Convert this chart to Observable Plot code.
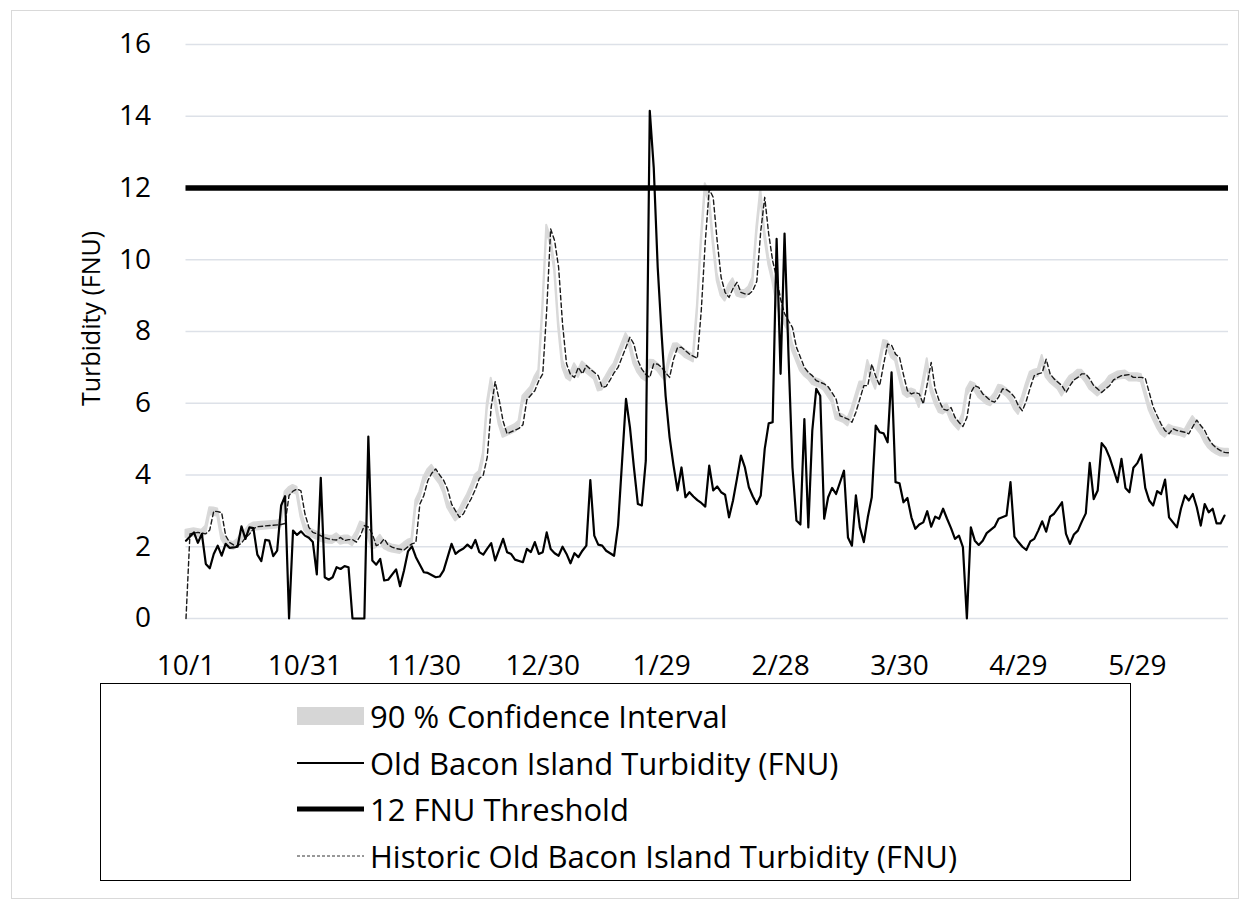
<!DOCTYPE html>
<html>
<head>
<meta charset="utf-8">
<script src="https://cdn.jsdelivr.net/npm/d3@7"></script>
<script src="https://cdn.jsdelivr.net/npm/@observablehq/plot@0.6"></script>
<style>
  body { margin: 0; background: #fff; font-family: "Open Sans", sans-serif; }
  #frame { position: absolute; left: 11px; top: 10px; width: 1226px; height: 887px; border: 1px solid #d9d9d9; }
  #chart { position: absolute; left: 0; top: 0; }
  #legend { position: absolute; left: 100px; top: 683px; width: 1031px; height: 198px; border: 1.5px solid #000; box-sizing: border-box; }
  .item { position: absolute; left: 196px; height: 40px; display: flex; align-items: center; font-size: 31px; color: #000; white-space: nowrap; }
  .item svg { margin-right: 6px; flex: none; }
</style>
</head>
<body>
<div id="frame"></div>
<div id="chart"></div>
<div id="legend"></div>
<script>
// Daily turbidity, days counted from 10/1
const oldBacon = [
  [0,2.17],[2,2.40],[3,2.11],[4,2.36],[5,1.52],[6,1.40],[7,1.80],[8,2.03],[9,1.75],[10,2.08],
  [11,1.97],[12,1.98],[13,2.00],[14,2.57],[15,2.22],[16,2.54],[17,2.52],[18,1.78],[19,1.60],[20,2.19],
  [21,2.17],[22,1.74],[23,1.89],[24,3.15],[25,3.41],[26,0],[27,2.45],[28,2.33],[29,2.43],[30,2.31],
  [31,2.25],[32,2.13],[33,1.23],[34,3.92],[35,1.15],[36,1.08],[37,1.15],[38,1.43],[39,1.38],[40,1.46],
  [41,1.43],[42,0],[43,0],[44,0],[45,0],[46,5.07],[47,1.62],[48,1.50],[49,1.66],[50,1.06],
  [51,1.08],[53,1.37],[54,0.90],[55,1.34],[56,1.87],[57,2.01],[58,1.71],[60,1.29],[61,1.27],[63,1.15],
  [64,1.17],[65,1.34],[67,2.08],[68,1.80],[69,1.89],[70,1.95],[71,2.06],[72,1.96],[73,2.19],[74,1.85],
  [75,1.78],[76,1.95],[77,2.10],[78,1.62],[80,2.22],[81,1.85],[82,1.80],[83,1.64],[85,1.57],[86,1.94],
  [87,1.85],[88,2.13],[89,1.80],[90,1.85],[91,2.40],[92,1.94],[93,1.82],[94,1.75],[95,2.00],[96,1.80],
  [97,1.54],[98,1.82],[99,1.71],[100,1.89],[101,2.03],[102,3.86],[103,2.31],[104,2.06],[105,2.03],[106,1.89],
  [108,1.75],[109,2.59],[111,6.12],[112,5.33],[113,4.21],[114,3.19],[115,3.15],[116,4.40],[117,14.15],[118,12.57],
  [119,9.79],[120,7.90],[121,6.20],[122,5.05],[123,4.26],[124,3.57],[125,4.21],[126,3.38],[127,3.52],[128,3.40],
  [129,3.30],[130,3.22],[131,3.12],[132,4.26],[133,3.57],[134,3.68],[135,3.52],[136,3.45],[137,2.82],[138,3.29],
  [139,3.90],[140,4.54],[141,4.21],[142,3.66],[143,3.40],[144,3.19],[145,3.43],[146,4.73],[147,5.44],[148,5.47],
  [149,10.58],[150,6.82],[151,10.73],[152,7.33],[153,4.21],[154,2.73],[155,2.62],[156,5.56],[157,2.54],[158,5.24],
  [159,6.40],[160,6.21],[161,2.78],[162,3.38],[163,3.64],[164,3.47],[166,4.12],[167,2.26],[168,2.03],[169,3.43],
  [170,2.54],[171,2.13],[172,2.82],[173,3.38],[174,5.38],[175,5.19],[176,5.16],[177,4.91],[178,6.86],[179,3.80],
  [180,3.77],[181,3.24],[182,3.36],[183,2.82],[184,2.50],[185,2.62],[186,2.68],[187,2.99],[188,2.56],[189,2.84],
  [190,2.78],[191,3.06],[192,2.78],[193,2.52],[194,2.22],[195,2.31],[196,1.99],[197,0],[198,2.54],[199,2.17],
  [200,2.05],[201,2.17],[202,2.38],[203,2.47],[204,2.56],[205,2.78],[207,2.87],[208,3.80],[209,2.28],[210,2.13],
  [211,2.00],[212,1.91],[213,2.15],[214,2.22],[215,2.45],[216,2.71],[217,2.42],[218,2.84],[219,2.92],[221,3.24],
  [222,2.36],[223,2.08],[224,2.34],[225,2.45],[226,2.70],[227,2.93],[228,4.34],[229,3.33],[230,3.57],[231,4.89],
  [232,4.75],[233,4.49],[234,4.15],[235,3.80],[236,4.45],[237,3.64],[238,3.52],[239,4.20],[240,4.33],[241,4.57],
  [242,3.64],[243,3.29],[244,3.15],[245,3.55],[246,3.47],[247,3.87],[248,2.82],[249,2.68],[250,2.54],[251,3.06],
  [252,3.43],[253,3.29],[254,3.47],[255,3.10],[256,2.59],[257,3.19],[258,2.96],[259,3.06],[260,2.65],[261,2.65],
  [262,2.87]
];

const historic = [
  [0,0],[1,2.36],[3,2.40],[5,2.36],[6,2.47],[7,2.99],[8,2.98],[9,2.95],[10,2.31],[11,2.12],
  [12,2.05],[13,2.02],[14,2.10],[15,2.25],[16,2.35],[17,2.50],[18,2.56],[20,2.58],[22,2.60],[24,2.62],
  [25,2.65],[26,3.43],[27,3.55],[28,3.61],[29,3.56],[30,2.92],[31,2.54],[32,2.40],[33,2.36],[34,2.31],
  [35,2.25],[36,2.22],[37,2.20],[38,2.19],[39,2.26],[40,2.17],[41,2.20],[42,2.20],[43,2.13],[44,2.31],
  [45,2.59],[46,2.55],[47,2.36],[48,2.03],[49,2.08],[50,2.22],[51,2.05],[52,1.99],[53,1.95],[54,1.93],
  [55,1.91],[56,2.00],[57,2.08],[58,2.12],[59,3.19],[60,3.43],[61,3.84],[62,4.05],[63,4.17],[64,4.00],
  [65,3.85],[66,3.60],[67,3.19],[68,3.00],[69,2.82],[70,2.92],[71,3.15],[72,3.35],[73,3.60],[74,3.90],
  [75,4.00],[76,4.50],[77,5.90],[78,6.60],[79,6.10],[80,5.50],[81,5.15],[82,5.20],[83,5.25],[84,5.30],
  [85,5.40],[86,6.10],[88,6.35],[89,6.63],[90,6.82],[91,8.60],[92,10.86],[93,10.53],[94,9.79],[95,8.20],
  [96,7.10],[97,6.80],[98,6.72],[99,7.00],[100,6.82],[101,7.05],[102,6.95],[104,6.77],[105,6.44],[106,6.47],
  [107,6.65],[108,6.85],[109,7.00],[111,7.56],[112,7.84],[113,7.65],[114,7.19],[115,6.95],[116,6.80],[117,6.72],
  [118,7.10],[119,7.09],[120,7.00],[121,6.85],[122,6.72],[123,7.23],[124,7.55],[125,7.56],[126,7.47],[127,7.37],
  [129,7.25],[130,8.60],[131,10.50],[132,11.97],[133,11.74],[134,10.53],[135,9.51],[136,9.09],[137,8.95],[138,9.20],
  [139,9.37],[140,9.09],[141,9.05],[142,9.04],[143,9.14],[144,9.40],[145,10.80],[146,11.74],[147,10.72],[148,9.97],
  [149,9.50],[150,8.90],[151,8.50],[152,8.30],[153,8.11],[154,7.56],[156,7.00],[157,6.86],[158,6.77],[159,6.63],
  [161,6.54],[162,6.46],[164,6.12],[165,5.65],[167,5.56],[168,5.47],[169,5.75],[170,6.12],[171,6.49],[172,6.49],
  [173,7.09],[174,6.75],[175,6.49],[176,7.09],[177,7.65],[178,7.62],[179,7.37],[180,7.28],[181,6.80],[182,6.35],
  [183,6.26],[184,6.30],[185,6.26],[186,5.98],[187,6.54],[188,7.14],[189,6.40],[190,6.07],[191,5.84],[192,5.80],
  [193,5.88],[194,5.61],[195,5.47],[196,5.35],[197,5.60],[198,6.30],[199,6.49],[200,6.44],[201,6.26],[202,6.17],
  [203,6.07],[204,6.03],[205,6.17],[206,6.40],[207,6.38],[208,6.30],[209,6.17],[210,5.93],[211,5.79],[212,6.07],
  [213,6.44],[214,6.77],[215,6.82],[216,6.85],[217,7.23],[218,6.82],[219,6.68],[221,6.49],[222,6.30],[223,6.49],
  [224,6.65],[225,6.72],[226,6.82],[227,6.82],[228,6.68],[229,6.49],[230,6.40],[231,6.30],[232,6.40],[233,6.49],
  [234,6.65],[236,6.77],[238,6.80],[239,6.72],[241,6.72],[242,6.70],[243,6.30],[244,5.90],[245,5.65],[246,5.42],
  [247,5.24],[248,5.15],[249,5.29],[250,5.24],[252,5.19],[253,5.15],[254,5.35],[255,5.53],[256,5.38],[257,5.24],
  [258,5.01],[259,4.85],[260,4.75],[261,4.68],[262,4.63],[263,4.62]
];

// 90 % confidence interval: [day, lower, upper]
const ciBand = [
  [0,2.26,2.46],[2,2.30,2.50],[4,2.26,2.46],[5,2.37,2.57],[6,2.89,3.09],[7,2.88,3.08],[8,2.85,3.05],[9,2.21,2.41],[10,2.02,2.22],[11,1.95,2.15],
  [12,1.92,2.12],[13,2.00,2.20],[14,2.15,2.35],[15,2.25,2.45],[16,2.40,2.60],[17,2.46,2.66],[19,2.48,2.68],[21,2.50,2.70],[23,2.52,2.72],[24,2.55,2.75],
  [25,3.33,3.53],[26,3.45,3.65],[27,3.51,3.71],[28,3.46,3.66],[29,2.82,3.02],[30,2.44,2.64],[31,2.30,2.50],[32,2.26,2.46],[33,2.21,2.41],[34,2.15,2.35],
  [35,2.12,2.32],[36,2.10,2.30],[37,2.09,2.29],[38,2.16,2.36],[39,2.07,2.27],[40,2.10,2.30],[41,2.10,2.30],[42,2.03,2.23],[43,2.21,2.41],[44,2.49,2.69],
  [45,2.45,2.65],[46,2.26,2.46],[47,1.93,2.13],[48,1.98,2.18],[49,2.12,2.32],[50,1.95,2.15],[51,1.89,2.09],[52,1.85,2.05],[53,1.83,2.03],[54,1.81,2.01],
  [55,1.90,2.10],[56,1.98,2.18],[57,2.02,2.22],[58,3.09,3.29],[59,3.33,3.53],[60,3.74,3.94],[61,3.95,4.15],[62,4.07,4.27],[63,3.90,4.10],[64,3.75,3.95],
  [65,3.50,3.70],[66,3.09,3.29],[67,2.90,3.10],[68,2.72,2.92],[69,2.82,3.02],[70,3.05,3.25],[71,3.25,3.45],[72,3.50,3.70],[73,3.80,4.00],[74,3.90,4.10],
  [75,4.40,4.60],[76,5.80,6.00],[77,6.50,6.70],[78,6.00,6.20],[79,5.40,5.60],[80,5.05,5.25],[81,5.10,5.30],[82,5.15,5.35],[83,5.20,5.40],[84,5.30,5.50],
  [85,6.00,6.20],[87,6.25,6.45],[88,6.53,6.73],[89,6.72,6.92],[90,8.50,8.70],[91,10.76,10.96],[92,10.43,10.63],[93,9.69,9.89],[94,8.10,8.30],[95,7.00,7.20],
  [96,6.70,6.90],[97,6.62,6.82],[98,6.90,7.10],[99,6.72,6.92],[100,6.95,7.15],[101,6.85,7.05],[103,6.67,6.87],[104,6.34,6.54],[105,6.37,6.57],[106,6.55,6.75],
  [107,6.75,6.95],[108,6.90,7.10],[110,7.46,7.66],[111,7.74,7.94],[112,7.55,7.75],[113,7.09,7.29],[114,6.85,7.05],[115,6.70,6.90],[116,6.62,6.82],[117,7.00,7.20],
  [118,6.99,7.19],[119,6.90,7.10],[120,6.75,6.95],[121,6.62,6.82],[122,7.13,7.33],[123,7.45,7.65],[124,7.46,7.66],[125,7.37,7.57],[126,7.27,7.47],[128,7.15,7.35],
  [129,8.50,8.70],[130,10.40,10.60],[131,11.90,12.12],[132,11.64,11.84],[133,10.43,10.63],[134,9.41,9.61],[135,8.99,9.19],[136,8.85,9.05],[137,9.10,9.30],[138,9.27,9.47],
  [139,8.99,9.19],[140,8.95,9.15],[141,8.94,9.14],[142,9.04,9.24],[143,9.30,9.50],[144,10.70,10.90],[145,11.75,11.98],[146,10.62,10.82],[147,9.87,10.07],[148,9.40,9.60],
  [149,8.80,9.00],[150,8.40,8.60],[151,8.20,8.40],[152,8.01,8.21],[153,7.46,7.66],[155,6.90,7.10],[156,6.76,6.96],[157,6.67,6.87],[158,6.53,6.73],[160,6.44,6.64],
  [161,6.36,6.56],[163,6.02,6.22],[164,5.55,5.75],[166,5.46,5.66],[167,5.37,5.57],[168,5.65,5.85],[169,6.02,6.22],[170,6.39,6.59],[171,6.39,6.59],[172,6.99,7.19],
  [173,6.65,6.85],[174,6.39,6.59],[175,6.99,7.19],[176,7.55,7.75],[177,7.52,7.72],[178,7.27,7.47],[179,7.18,7.38],[180,6.70,6.90],[181,6.25,6.45],[182,6.16,6.36],
  [183,6.20,6.40],[184,6.16,6.36],[185,5.88,6.08],[186,6.44,6.64],[187,7.04,7.24],[188,6.30,6.50],[189,5.97,6.17],[190,5.74,5.94],[191,5.70,5.90],[192,5.78,5.98],
  [193,5.51,5.71],[194,5.37,5.57],[195,5.25,5.45],[196,5.50,5.70],[197,6.20,6.40],[198,6.39,6.59],[199,6.34,6.54],[200,6.16,6.36],[201,6.07,6.27],[202,5.97,6.17],
  [203,5.93,6.13],[204,6.07,6.27],[205,6.30,6.50],[206,6.28,6.48],[207,6.20,6.40],[208,6.07,6.27],[209,5.83,6.03],[210,5.69,5.89],[211,5.97,6.17],[212,6.34,6.54],
  [213,6.67,6.87],[214,6.72,6.92],[215,6.75,6.95],[216,7.13,7.33],[217,6.72,6.92],[218,6.58,6.78],[220,6.39,6.59],[221,6.20,6.40],[222,6.39,6.59],[223,6.55,6.75],
  [224,6.62,6.82],[225,6.72,6.92],[226,6.72,6.92],[227,6.58,6.78],[228,6.39,6.59],[229,6.30,6.50],[230,6.20,6.40],[231,6.30,6.50],[232,6.39,6.59],[233,6.55,6.75],
  [235,6.67,6.87],[237,6.70,6.90],[238,6.62,6.82],[240,6.62,6.82],[241,6.60,6.80],[242,6.20,6.40],[243,5.80,6.00],[244,5.55,5.75],[245,5.32,5.52],[246,5.14,5.34],
  [247,5.05,5.25],[248,5.19,5.39],[249,5.14,5.34],[251,5.09,5.29],[252,5.05,5.25],[253,5.25,5.45],[254,5.43,5.63],[255,5.28,5.48],[256,5.14,5.34],[257,4.91,5.11],
  [258,4.75,4.95],[259,4.65,4.85],[260,4.58,4.78],[261,4.53,4.73],[262,4.52,4.72],[263,4.52,4.72]
];

const threshold = 12;
const lastDay = 263;
const xTickDays = [0, 30, 60, 90, 120, 150, 180, 210, 240];
const xTickLabels = ["10/1", "10/31", "11/30", "12/30", "1/29", "2/28", "3/30", "4/29", "5/29"];
const yTicks = [0, 2, 4, 6, 8, 10, 12, 14, 16];
const yLabel = "Turbidity (FNU)";
const legendItems = [
  {label: "90 % Confidence Interval", kind: "band"},
  {label: "Old Bacon Island Turbidity (FNU)", kind: "line"},
  {label: "12 FNU Threshold", kind: "thick"},
  {label: "Historic Old Bacon Island Turbidity (FNU)", kind: "dash"}
];

const start = new Date(Date.UTC(2021, 9, 1));
const dayDate = d => d3.utcDay.offset(start, d);
const tickLabelOf = new Map(xTickDays.map((d, i) => [+dayDate(d), xTickLabels[i]]));

const chart = Plot.plot({
  width: 1248,
  height: 690,
  marginLeft: 185.5,
  marginRight: 20,
  marginTop: 44,
  marginBottom: 72,
  style: {fontFamily: "'Open Sans', sans-serif", fontSize: "28px", color: "#000", background: "transparent", overflow: "visible"},
  x: {type: "utc", domain: [dayDate(0), dayDate(lastDay)]},
  y: {domain: [0, 16]},
  marks: [
    Plot.gridY(yTicks, {stroke: "#dde1e8", strokeOpacity: 1, strokeWidth: 1.3}),
    Plot.areaY(ciBand, {x: d => dayDate(d[0]), y1: d => d[1], y2: d => d[2], fill: "#d6d6d6", stroke: "#d9d9d9", strokeWidth: 2}),
    Plot.line(historic, {x: d => dayDate(d[0]), y: d => d[1], stroke: "#1a1a1a", strokeWidth: 1.4, strokeDasharray: "4.5,3"}),
    Plot.line(oldBacon, {x: d => dayDate(d[0]), y: d => d[1], stroke: "#000", strokeWidth: 2.2}),
    Plot.ruleY([threshold], {stroke: "#000", strokeWidth: 5.5}),
    Plot.axisX({ticks: xTickDays.map(dayDate), tickFormat: d => tickLabelOf.get(+d), tickSize: 0, tickPadding: 37, label: null, fontSize: 28}),
    Plot.axisY({ticks: yTicks, tickSize: 0, tickPadding: 35, label: null, fontSize: 28}),
    Plot.text([yLabel], {frameAnchor: "left", textAnchor: "middle", dx: -94, dy: -13, rotate: -90, fontSize: 25, fill: "#000"})
  ]
});
document.getElementById("chart").appendChild(chart);

// Legend box below the chart
const legend = document.getElementById("legend");
const rowCenters = [32, 79, 125, 172];
legendItems.forEach((item, i) => {
  const row = document.createElement("div");
  row.className = "item";
  row.style.top = (rowCenters[i] - 20) + "px";
  let sw = "";
  if (item.kind === "band") sw = '<rect x="0" y="1" width="67" height="18" fill="#d6d6d6"/>';
  if (item.kind === "line") sw = '<line x1="0" x2="67" y1="10" y2="10" stroke="#000" stroke-width="2"/>';
  if (item.kind === "thick") sw = '<line x1="0" x2="67" y1="10" y2="10" stroke="#000" stroke-width="5"/>';
  if (item.kind === "dash") sw = '<line x1="0" x2="67" y1="10" y2="10" stroke="#333" stroke-width="1" stroke-dasharray="3,2"/>';
  row.innerHTML = '<svg width="67" height="20">' + sw + '</svg><span>' + item.label + '</span>';
  legend.appendChild(row);
});
</script>
</body>
</html>
